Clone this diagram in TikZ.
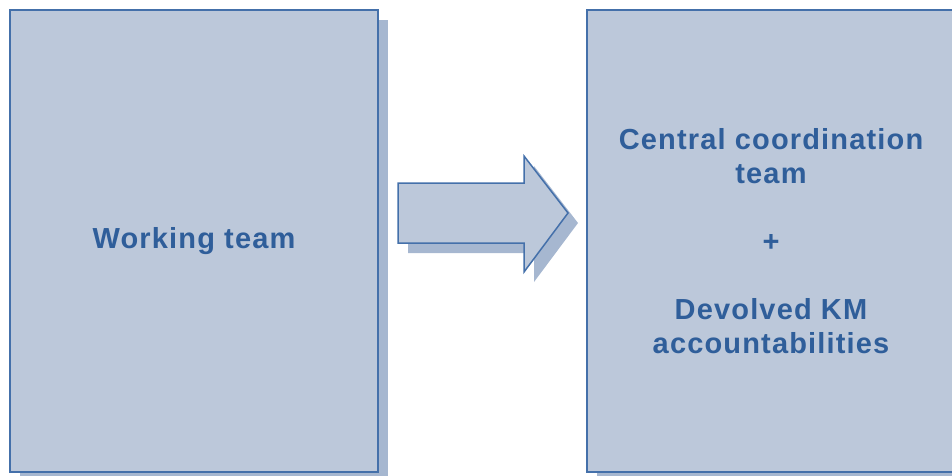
\documentclass[tikz,border=0pt]{standalone}
\usepackage{fontspec}
\setmainfont{Liberation Sans}
\newfontfamily\boxfont[LetterSpace=4]{Liberation Sans Bold}
\usetikzlibrary{shadows}
\definecolor{boxfill}{HTML}{BCC8DA}
\definecolor{boxline}{HTML}{4470AA}
\definecolor{shadowc}{HTML}{A6B7D0}
\definecolor{txt}{HTML}{2F5E9A}
\begin{document}
\begin{tikzpicture}[x=1pt,y=1pt,
  panel/.style={draw=boxline, line width=2pt, fill=boxfill, minimum width=368pt, minimum height=462pt,
    inner sep=0pt, align=center, text=txt, font=\boxfont\fontsize{29}{34}\selectfont,
    drop shadow={shadow xshift=10pt, shadow yshift=-10pt, fill=shadowc, opacity=1}},
  arrowbody/.style={draw=boxline, line width=1.5pt, fill=boxfill, line join=miter}]
\useasboundingbox (0,0) rectangle (952,475);
\node[panel] (left) at (194,234) {Working team};
\node[panel] (right) at (771,234) {Central coordination\\team\\[34pt]+\\[34pt]Devolved KM\\accountabilities};
% arrow shadow
\fill[shadowc, shift={(10,-10)}] (398,292) -- (524,292) -- (524,319) -- (568,262) -- (524,203) -- (524,232) -- (398,232) -- cycle;
\path[arrowbody] (398,292) -- (524,292) -- (524,319) -- (568,262) -- (524,203) -- (524,232) -- (398,232) -- cycle;
\end{tikzpicture}
\end{document}
